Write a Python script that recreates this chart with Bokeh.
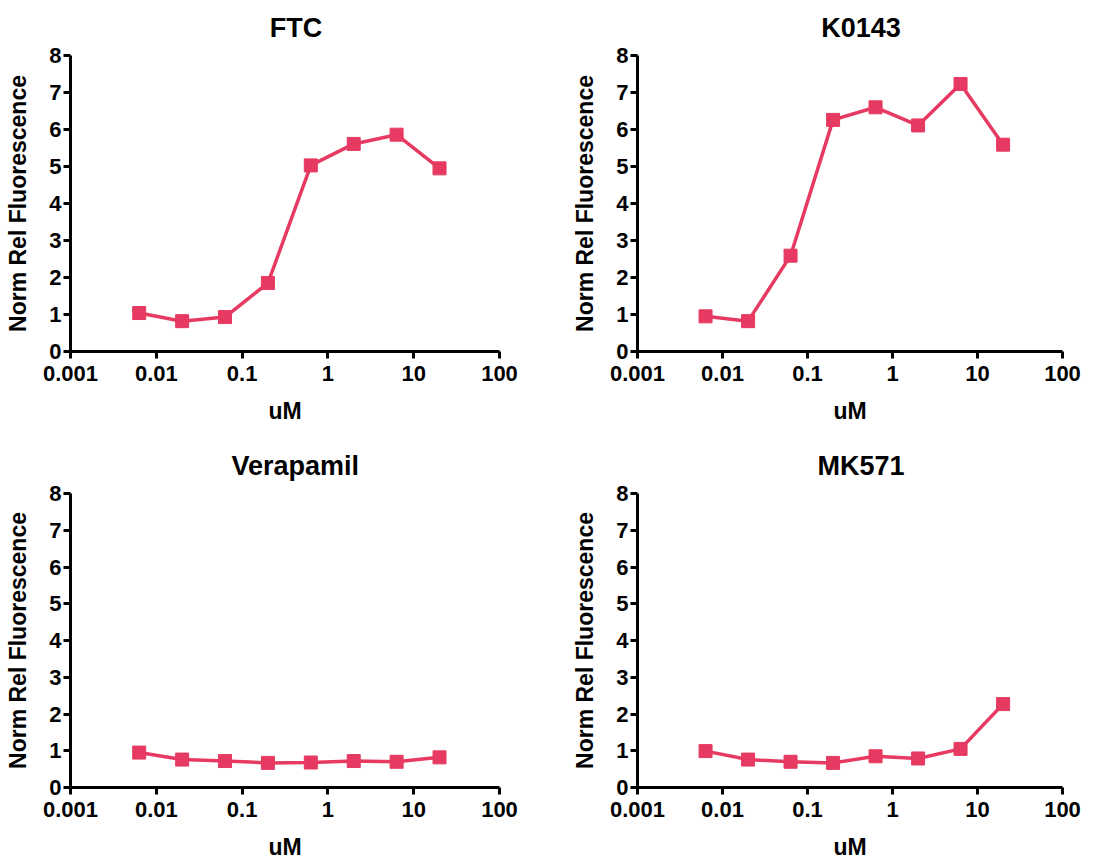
from bokeh.plotting import figure
from bokeh.models import Range1d, FixedTicker
from bokeh.layouts import column, row
from bokeh.embed import file_html
from bokeh.resources import INLINE

# concentrations (uM), half-log dilution series
conc = [0.00632, 0.02, 0.0632, 0.2, 0.632, 2.0, 6.32, 20.0]

ftc = [1.04, 0.82, 0.93, 1.85, 5.03, 5.61, 5.86, 4.95]
k0143 = [0.95, 0.82, 2.59, 6.26, 6.60, 6.11, 7.23, 5.59]
verapamil = [0.95, 0.76, 0.72, 0.67, 0.68, 0.72, 0.70, 0.82]
mk571 = [0.99, 0.76, 0.70, 0.67, 0.85, 0.79, 1.05, 2.27]

titles = ["FTC", "K0143", "Verapamil", "MK571"]
x_ticks = [0.001, 0.01, 0.1, 1.0, 10.0, 100.0]
x_tick_labels = ["0.001", "0.01", "0.1", "1", "10", "100"]
y_ticks = [0, 1, 2, 3, 4, 5, 6, 7, 8]
x_label = "uM"
y_label = "Norm Rel Fluorescence"

COLOR = "#E63A62"
FONT = "Liberation Sans"
TITLE_PX = 27
# Arial/Liberation Sans Bold advance widths (per 1000 em), used to centre titles
ADV = {"F": 611, "T": 611, "C": 722, "K": 722, "0": 556, "1": 556, "4": 556,
       "3": 556, "V": 667, "e": 556, "r": 389, "a": 556, "p": 611, "m": 889,
       "i": 278, "l": 278, "M": 833, "5": 556, "7": 556}


def text_width(s, px):
    return sum(ADV.get(ch, 556) for ch in s) * px / 1000.0


def make_panel(title, values, w, h, bl, br, bt, bb):
    p = figure(width=w, height=h, x_axis_type="log",
               x_range=Range1d(x_ticks[0], x_ticks[-1]),
               y_range=Range1d(y_ticks[0], y_ticks[-1]),
               output_backend="svg", toolbar_location=None,
               min_border_left=bl, min_border_right=br,
               min_border_top=bt, min_border_bottom=bb)
    p.outline_line_color = None
    p.xgrid.grid_line_color = None
    p.ygrid.grid_line_color = None
    p.background_fill_color = "white"
    p.border_fill_color = "white"

    fw = w - bl - br
    p.title.text = title
    p.title.align = "left"
    p.title.offset = fw / 2 + 11 - text_width(title, TITLE_PX) / 2
    p.title.vertical_align = "top"
    p.title.text_font = FONT
    p.title.text_font_style = "bold"
    p.title.text_font_size = f"{TITLE_PX}px"
    p.title.text_color = "black"
    p.title.standoff = 22

    for ax in (p.xaxis[0], p.yaxis[0]):
        ax.axis_line_width = 3
        ax.axis_line_color = "black"
        ax.major_tick_line_width = 3
        ax.major_tick_line_color = "black"
        ax.major_tick_out = 7
        ax.major_tick_in = 0
        ax.minor_tick_line_color = None
        ax.major_label_text_font = FONT
        ax.major_label_text_font_style = "bold"
        ax.major_label_text_font_size = "22px"
        ax.major_label_text_color = "black"
        ax.axis_label_text_font = FONT
        ax.axis_label_text_font_style = "bold"
        ax.axis_label_text_font_size = "23px"
        ax.axis_label_text_color = "black"

    p.xaxis.ticker = FixedTicker(ticks=x_ticks, minor_ticks=[])
    p.xaxis.major_label_overrides = {t: l for t, l in zip(x_ticks, x_tick_labels)}
    p.xaxis.axis_label = x_label
    p.xaxis.major_label_standoff = 7
    p.xaxis.axis_label_standoff = 14

    p.yaxis.ticker = FixedTicker(ticks=y_ticks, minor_ticks=[])
    p.yaxis.axis_label = y_label
    p.yaxis.major_label_standoff = 2
    p.yaxis.axis_label_standoff = 15

    p.line(conc, values, line_color=COLOR, line_width=3.5)
    p.scatter(conc, values, marker="square", size=13,
              fill_color=COLOR, line_color=COLOR)
    return p


p1 = make_panel(titles[0], ftc, 552, 432, 70, 53, 55, 81)
p2 = make_panel(titles[1], k0143, 552, 432, 85, 42, 55, 81)
p3 = make_panel(titles[2], verapamil, 552, 430, 70, 53, 61, 72)
p4 = make_panel(titles[3], mk571, 552, 430, 85, 42, 61, 72)

layout = column(row(p1, p2), row(p3, p4))
open("out.html", "w").write(file_html(layout, INLINE))
